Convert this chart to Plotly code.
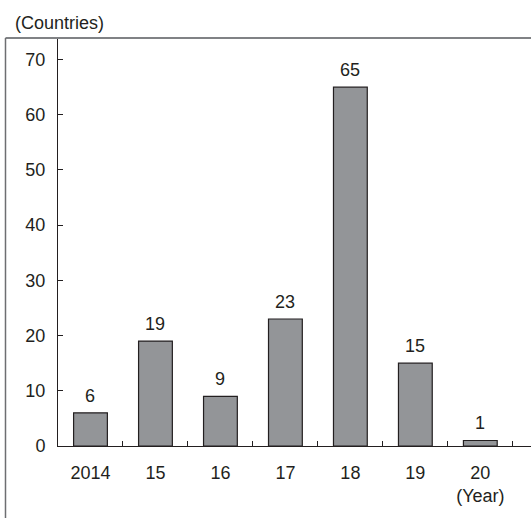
import plotly.graph_objects as go

years = ["2014", "15", "16", "17", "18", "19", "20"]
tick_text = ["2014", "15", "16", "17", "18", "19", "20<br>(Year)"]
countries = [6, 19, 9, 23, 65, 15, 1]

FONT = "Liberation Sans, Arial, Helvetica, sans-serif"
INK = "#231f20"

fig = go.Figure()
fig.add_trace(go.Bar(
    x=years,
    y=countries,
    width=0.52,
    marker=dict(color="#939598", line=dict(color=INK, width=1.2)),
    hoverinfo="skip",
))

# value labels above each bar (category index positions)
for i, v in enumerate(countries):
    fig.add_annotation(
        x=i, y=v, xref="x", yref="y", text=str(v), showarrow=False,
        yanchor="bottom", yshift=5,
        font=dict(family=FONT, size=18, color=INK),
    )

# unit label for the vertical axis
fig.add_annotation(
    xref="paper", yref="paper", x=-0.095, y=1.0, yshift=15,
    xanchor="left", yanchor="middle", text="(Countries)", showarrow=False,
    font=dict(family=FONT, size=18, color=INK),
)

# frame around the chart (left and top edges visible)
fig.add_shape(type="line", xref="paper", yref="paper",
              x0=-0.111, x1=1.05, y0=1.0, y1=1.0,
              line=dict(color="#808285", width=2))
fig.add_shape(type="line", xref="paper", yref="paper",
              x0=-0.111, x1=-0.111, y0=1.0, y1=-0.2,
              line=dict(color="#6d6e71", width=1.5))

fig.update_layout(
    width=531, height=518,
    margin=dict(l=58, r=0, t=38, b=72),
    plot_bgcolor="white", paper_bgcolor="white",
    showlegend=False,
    bargap=0.48,
    font=dict(family=FONT, size=18, color=INK),
    xaxis=dict(
        type="category",
        tickmode="array", tickvals=years, ticktext=tick_text,
        range=[-0.5, 6.78],
        showline=True, linecolor=INK, linewidth=1,
        ticks="inside", tickson="boundaries", ticklen=5, tickcolor=INK,
        showgrid=False, zeroline=False,
        ticklabelstandoff=10,
        tickfont=dict(family=FONT, size=18, color=INK),
    ),
    yaxis=dict(
        range=[0, 73.9],
        tickvals=[0, 10, 20, 30, 40, 50, 60, 70],
        showline=True, linecolor=INK, linewidth=1,
        ticks="inside", ticklen=5, tickcolor=INK,
        showgrid=False, zeroline=False,
        ticklabelstandoff=8,
        tickfont=dict(family=FONT, size=18, color=INK),
    ),
)

fig.write_html("out.html")
